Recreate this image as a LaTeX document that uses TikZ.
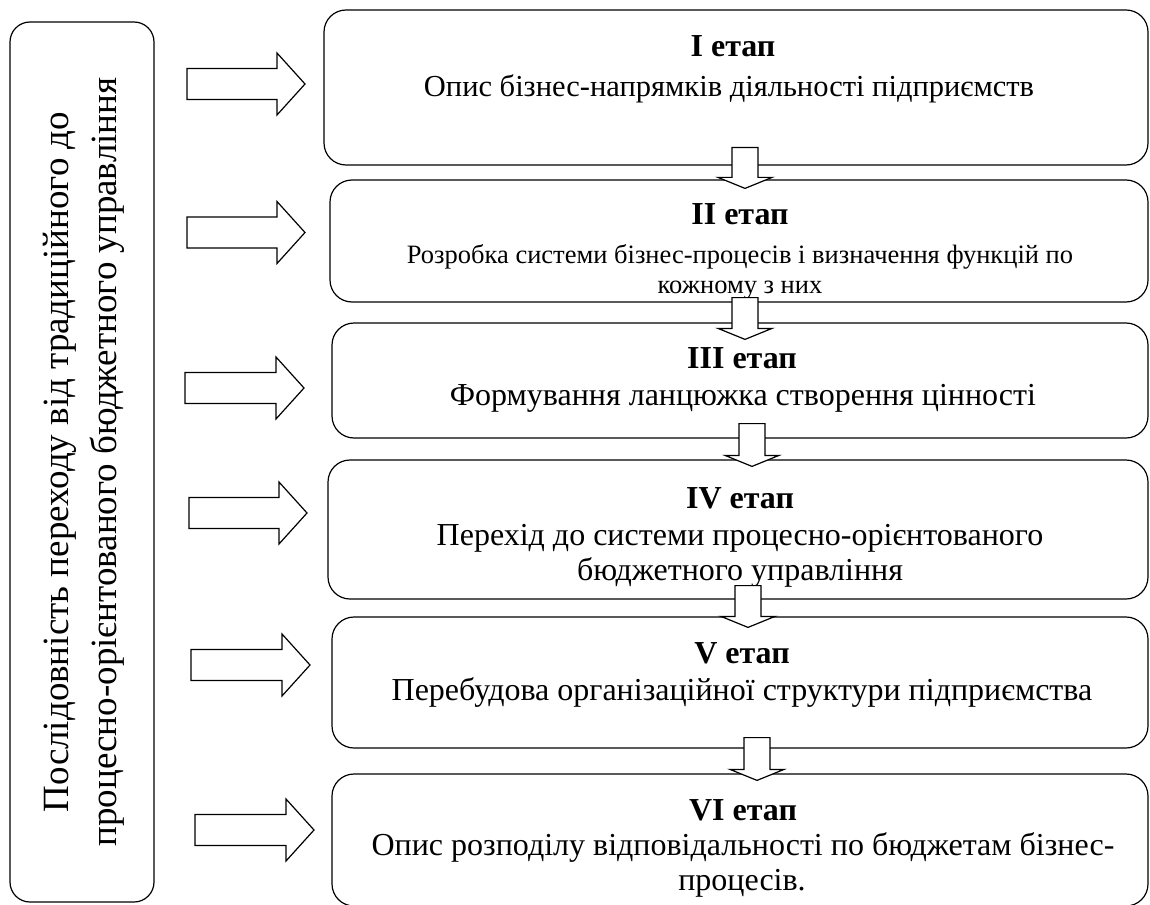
\documentclass[tikz,border=0pt]{standalone}
\usepackage{fontspec}
\setmainfont{Liberation Serif}
\usetikzlibrary{calc}

\begin{document}
\begin{tikzpicture}[x=1pt,y=-1pt,
  stagebox/.style={draw, line width=1.2pt, rounded corners=22pt, inner sep=0pt},
  title/.style={font=\fontsize{32}{36}\selectfont\bfseries, anchor=base, inner sep=0pt},
  desc/.style={font=\fontsize{32}{36}\selectfont, anchor=base, inner sep=0pt},
  descsmall/.style={font=\fontsize{26.5}{30}\selectfont, anchor=base, inner sep=0pt},
  downblock/.style={draw, fill=white, line width=1.2pt,
    to path={let \p1=(\tikztostart), \p2=(\tikztotarget) in
      (\x1-13pt,\y1) -- (\x1+13pt,\y1) -- (\x1+13pt,\y2+11pt) -- (\x1+27pt,\y2+11pt)
      -- (\x1,\y2) -- (\x1-27pt,\y2+11pt) -- (\x1-13pt,\y2+11pt) -- cycle}},
  rightblock/.style={draw, fill=white, line width=1.2pt,
    to path={let \p1=(\tikztostart), \p2=(\tikztotarget) in
      (\x1,\y1+15.5pt) -- (\x2-28pt,\y1+15.5pt) -- (\x2-28pt,\y1+31pt) -- (\x2,\y1)
      -- (\x2-28pt,\y1-31pt) -- (\x2-28pt,\y1-15.5pt) -- (\x1,\y1-15.5pt) -- cycle}}
]
\useasboundingbox (0,0) rectangle (1150,904);

% left sequence box
\node[stagebox, rounded corners=20pt, minimum width=144pt, minimum height=880pt] (seq) at (82,462) {};
\node[rotate=90, align=center, inner sep=0pt,
      font=\fontsize{37}{48}\selectfont] (seqtext) at (84,462)
  {Послідовність переходу від традиційного до\\процесно-орієнтованого бюджетного управління};

% stage boxes
\node[stagebox, minimum width=824pt, minimum height=155pt] (s1) at (736,87.5) {};
\node[stagebox, minimum width=818pt, minimum height=122pt] (s2) at (739,241) {};
\node[stagebox, minimum width=816pt, minimum height=115pt] (s3) at (740,380.5) {};
\node[stagebox, minimum width=820pt, minimum height=139pt] (s4) at (738,529.5) {};
\node[stagebox, minimum width=816pt, minimum height=131pt] (s5) at (740,682.5) {};
\node[stagebox, minimum width=816pt, minimum height=132pt] (s6) at (740,840) {};

% stage texts
\node[title] (t1) at (733,57) {I етап};
\node[desc, font=\fontsize{30.5}{36}\selectfont] (d1) at (729,97) {Опис бізнес-напрямків діяльності підприємств};

\node[title] (t2) at (740,224) {II етап};
\node[descsmall] (d2a) at (740,263) {Розробка системи бізнес-процесів і визначення функцій по};
\node[descsmall] (d2b) at (740,293) {кожному з них};

\node[title] (t3) at (742,368) {III етап};
\node[desc] (d3) at (743,405) {Формування ланцюжка створення цінності};

\node[title] (t4) at (740,508) {IV етап};
\node[desc] (d4a) at (740,545) {Перехід до системи процесно-орієнтованого};
\node[desc] (d4b) at (740,580) {бюджетного управління};

\node[title] (t5) at (742,663) {V етап};
\node[desc] (d5) at (742,700) {Перебудова організаційної структури підприємства};

\node[title] (t6) at (743,820) {VI етап};
\node[desc] (d6a) at (743,855) {Опис розподілу відповідальності по бюджетам бізнес-};
\node[desc] (d6b) at (742,890) {процесів.};

% arrows between consecutive stages
\draw[downblock] ($(s1.south)+(9,-18)$) to ($(s2.north)+(0,9)$);
\draw[downblock] ($(s2.south)+(6,-5)$) to ($(s3.north)+(0,17)$);
\draw[downblock] ($(s3.south)+(12,-15)$) to ($(s4.north)+(0,7)$);
\draw[downblock] ($(s4.south)+(10,-14)$) to ($(s5.north)+(0,11)$);
\draw[downblock] ($(s5.south)+(17,-11)$) to ($(s6.north)+(0,7)$);

% arrows from the sequence box towards each stage
\coordinate (a1s) at (187,84);   \coordinate (a1e) at (305,84);
\coordinate (a2s) at (187,232.5);\coordinate (a2e) at (305,232.5);
\coordinate (a3s) at (185,388);  \coordinate (a3e) at (304,388);
\coordinate (a4s) at (189,513);  \coordinate (a4e) at (307,513);
\coordinate (a5s) at (191,665);  \coordinate (a5e) at (310,665);
\coordinate (a6s) at (195,830);  \coordinate (a6e) at (314,830);
\draw[rightblock] (a1s) to (a1e);
\draw[rightblock] (a2s) to (a2e);
\draw[rightblock] (a3s) to (a3e);
\draw[rightblock] (a4s) to (a4e);
\draw[rightblock] (a5s) to (a5e);
\draw[rightblock] (a6s) to (a6e);
\end{tikzpicture}
\end{document}
